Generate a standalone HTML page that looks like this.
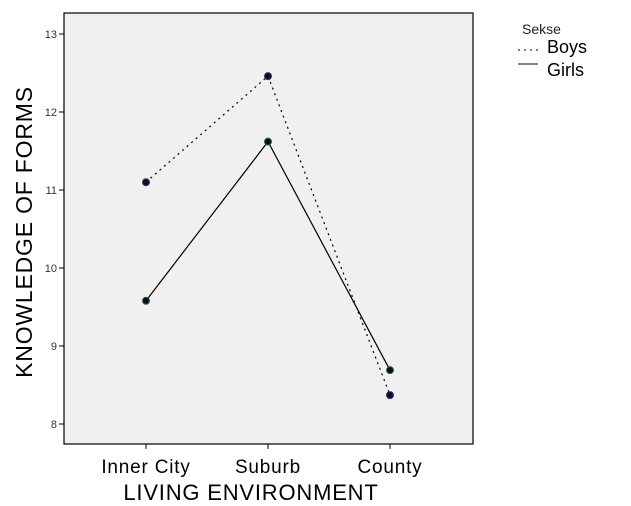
<!DOCTYPE html>
<html><head><meta charset="utf-8"><style>body{margin:0;background:#fff}svg{display:block;font-family:"Liberation Sans",sans-serif}</style></head>
<body>
<svg id="chart" width="631" height="506"></svg>
<script>
const categories = ["Inner City","Suburb","County"];
const boys = [11.10, 12.46, 8.37];
const girls = [9.58, 11.62, 8.69];
const yTicks = [8,9,10,11,12,13];
const NS="http://www.w3.org/2000/svg";
const svg=document.getElementById('chart');
const L=64,R=473,T=13,B=444;
const xs=i=>146+i*122;
const ys=v=>268-(v-10)*78;
function el(t,a,p){const e=document.createElementNS(NS,t);for(const k in a)e.setAttribute(k,a[k]);(p||svg).appendChild(e);return e;}
const bg=el('rect',{x:L,y:T,width:R-L,height:B-T,fill:'#f0f0f0',stroke:'#000','stroke-width':1.2});


yTicks.forEach(v=>{
  const y=ys(v);
  const t=el('line',{x1:L-5,x2:L,y1:y,y2:y,stroke:'#000'});
  
  
  const tx=el('text',{x:L-7,y:y+4,'text-anchor':'end','font-size':11,fill:'#333'});tx.textContent=v;
  
  
});
categories.forEach((c,i)=>{
  const x=xs(i);
  const t=el('line',{x1:x,x2:x,y1:B,y2:B+5,stroke:'#000'});
  
  
  const tx=el('text',{x:x,y:473,'text-anchor':'middle','font-size':19,fill:'#000','letter-spacing':'0.8'});tx.textContent=c;
  
  
});
function series(vals,dash,name,fillc){
  const p=el('polyline',{points:vals.map((v,i)=>xs(i)+','+ys(v)).join(' '),fill:'none',stroke:'#000','stroke-width':1.2,'stroke-dasharray':dash});
  
  
  vals.forEach((v,i)=>{
    const c=el('circle',{cx:xs(i),cy:ys(v),r:3.5,fill:'#0b0b2a',stroke:fillc,'stroke-width':1});
    
    
  });
}
series(boys,'2,4','boys','#333366');
series(girls,'none','girls','#2a6a2a');
const xt=el('text',{x:251,y:500,'text-anchor':'middle','font-size':22,'letter-spacing':'0.8'});xt.textContent='LIVING ENVIRONMENT';


const yt=el('text',{x:0,y:0,'text-anchor':'middle','font-size':23,'letter-spacing':'0.8',transform:'translate(32,232) rotate(-90)'});yt.textContent='KNOWLEDGE OF FORMS';


const lg=el('g',{});


const lt=el('text',{x:522,y:34,'font-size':14,fill:'#222'},lg);lt.textContent='Sekse';
el('line',{x1:518,x2:538,y1:50,y2:50,stroke:'#000','stroke-dasharray':'2,4'},lg);
const b=el('text',{x:547,y:53,'font-size':18},lg);b.textContent='Boys';


el('line',{x1:518,x2:538,y1:64,y2:64,stroke:'#000'},lg);
const g=el('text',{x:547,y:76,'font-size':18},lg);g.textContent='Girls';


</script>
</body></html>
